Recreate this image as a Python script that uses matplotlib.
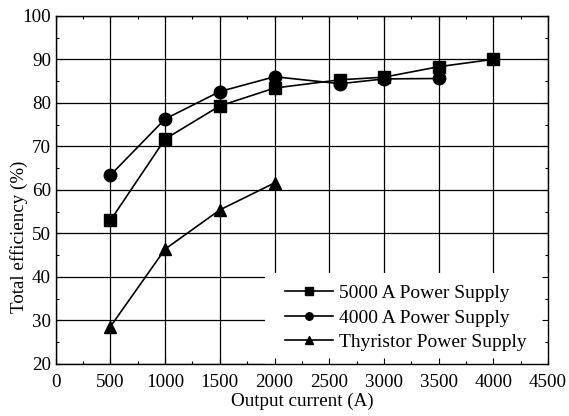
import matplotlib
matplotlib.use('Agg')
import matplotlib.pyplot as plt
from matplotlib.patches import Rectangle
from matplotlib.ticker import MultipleLocator

plt.rcParams['font.family'] = ['Liberation Serif', 'DejaVu Serif']
plt.rcParams['font.size'] = 13.7

# 5000 A power supply
i_5000 = [500, 1000, 1500, 2000, 2600, 3000, 3500, 4000]
eff_5000 = [53.0, 71.7, 79.3, 83.4, 85.3, 85.9, 88.3, 90.0]
# 4000 A power supply
i_4000 = [500, 1000, 1500, 2000, 2600, 3000, 3500]
eff_4000 = [63.4, 76.3, 82.6, 86.0, 84.4, 85.5, 85.6]
# thyristor power supply
i_thy = [500, 1000, 1500, 2000]
eff_thy = [28.6, 46.4, 55.4, 61.6]

fig = plt.figure(figsize=(5.69, 4.16), dpi=100)
ax = fig.add_axes([0.098, 0.125, 0.865, 0.837])

ax.set_xlim(0, 4500)
ax.set_ylim(20, 100)
ax.xaxis.set_major_locator(MultipleLocator(500))
ax.xaxis.set_minor_locator(MultipleLocator(250))
ax.yaxis.set_major_locator(MultipleLocator(10))
ax.yaxis.set_minor_locator(MultipleLocator(5))
ax.tick_params(which='both', direction='in', top=True, right=True)
ax.tick_params(which='major', length=4, width=0.8)
ax.tick_params(which='minor', length=2.5, width=0.8)
ax.tick_params(axis='x', which='major', pad=7)
ax.tick_params(axis='y', which='major', pad=3.5)

# grid taken from the tick positions, so the legend patch can hide part of it
for v in ax.get_xticks()[1:-1]:
    ax.axvline(v, color='black', lw=0.9, zorder=0.5)
for v in ax.get_yticks()[1:-1]:
    ax.axhline(v, color='black', lw=0.9, zorder=0.5)
ax.add_patch(Rectangle((0.425, 0), 0.575, 0.26, transform=ax.transAxes,
                       facecolor='white', edgecolor='none', zorder=1))

kw = dict(color='black', lw=1.2, ms=9, zorder=2, clip_on=False)
ax.plot(i_5000, eff_5000, marker='s', label='5000 A Power Supply', **kw)
ax.plot(i_4000, eff_4000, marker='o', label='4000 A Power Supply', **kw)
ax.plot(i_thy, eff_thy, marker='^', label='Thyristor Power Supply', **kw)

ax.legend(loc='lower right', bbox_to_anchor=(0.957, 0.037), frameon=False,
          fontsize=14, handlelength=2.5, markerscale=0.6, labelspacing=0.35,
          handletextpad=0.3, borderpad=0, borderaxespad=0)

ax.set_xlabel('Output current (A)')
ax.set_ylabel('Total efficiency (%)')
ax.xaxis.set_label_coords(0.5, -0.083)
ax.yaxis.set_label_coords(-0.057, 0.365)
for s in ax.spines.values():
    s.set_linewidth(1.0)

fig.savefig('out.png', dpi=100)
